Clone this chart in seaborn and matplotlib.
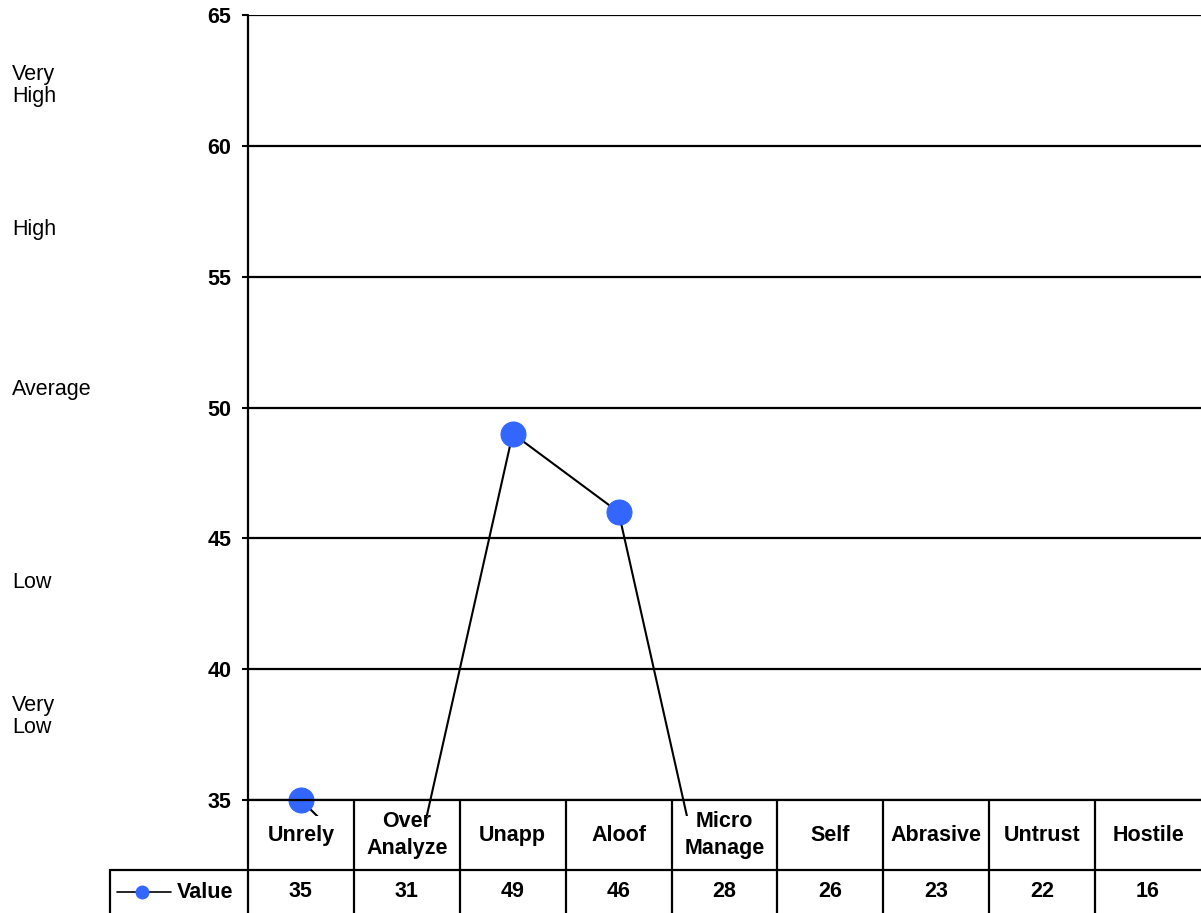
import numpy as np
import pandas as pd
import seaborn as sns
import matplotlib.pyplot as plt
from matplotlib.patches import Rectangle

# данные
categories = ['Unrely', 'Over\nAnalyze', 'Unapp', 'Aloof', 'Micro\nManage',
              'Self', 'Abrasive', 'Untrust', 'Hostile']
values = [35, 31, 49, 46, 28, 26, 23, 22, 16]
y_ticks = [35, 40, 45, 50, 55, 60, 65]
band_labels = ['Very\nHigh', 'High', 'Average', 'Low', 'Very\nLow']
band_y = [62.3, 56.8, 50.7, 43.3, 38.2]
series_name = 'Value'

sns.set_style('white')
plt.rcParams['font.family'] = ['Liberation Sans', 'DejaVu Sans']
plt.rcParams['text.color'] = 'black'
plt.rcParams['ytick.color'] = 'black'
plt.rcParams['ytick.labelcolor'] = 'black'

fig = plt.figure(figsize=(12.01, 9.13), dpi=100)
ax = fig.add_axes([248 / 1201, 113 / 913, 953 / 1201, 785 / 913])

df = pd.DataFrame({'pos': np.arange(len(categories)), 'value': values})
blue = '#3366ff'
sns.lineplot(data=df, x='pos', y='value', ax=ax, color='black', linewidth=1.5,
             marker='o', markersize=18, markerfacecolor=blue,
             markeredgecolor=blue, sort=False)

# линия обрезается чуть ниже оси
clip = Rectangle((0, -0.0205), 1, 1.03, transform=ax.transAxes,
                 facecolor='none', edgecolor='none')
ax.add_patch(clip)
for ln in ax.lines:
    ln.set_clip_path(clip)

ax.set_xlim(-0.5, len(categories) - 0.5)
ax.set_ylim(35, 65)
ax.set_yticks(y_ticks)
ax.set_yticklabels([str(t) for t in y_ticks], fontweight='bold', fontsize=15.5)
ax.tick_params(axis='y', length=4, width=1.5, pad=8, left=True, color='black')
ax.set_xticks([])
ax.set_xlabel('')
ax.set_ylabel('')
ax.grid(axis='y', color='black', linewidth=1.6)
for s in ['top', 'right', 'bottom', 'left']:
    ax.spines[s].set_visible(False)

# таблица под осью
bx = ax.get_xaxis_transform()
row1_bottom = -70 / 785
row2_bottom = -113 / 785
lw = 1.6
ax.plot([-0.5, len(categories) - 0.5], [0, 0], transform=bx, color='black', lw=lw, clip_on=False)
ax.plot([-0.5, -0.5], [row2_bottom, 1], transform=bx, color='black', lw=lw, clip_on=False)
for i in range(1, len(categories)):
    ax.plot([i - 0.5, i - 0.5], [row2_bottom, 0], transform=bx, color='black', lw=lw, clip_on=False)
for i, (c, v) in enumerate(zip(categories, values)):
    ax.text(i, row1_bottom / 2, c, transform=bx, ha='center', va='center',
            fontsize=15.5, fontweight='bold', linespacing=1.35)
    ax.text(i, (row1_bottom + row2_bottom) / 2, str(v), transform=bx, ha='center',
            va='center', fontsize=15.5, fontweight='bold')

# строка легенды
ffx = fig.transFigure
y1 = 1 - 870 / 913
y2 = 1 - 913 / 913
fig.add_artist(plt.Line2D([110 / 1201, 1], [y1, y1], transform=ffx, color='black', lw=lw))
fig.add_artist(plt.Line2D([110 / 1201, 110 / 1201], [y2, y1], transform=ffx, color='black', lw=lw))
ym = 1 - 892 / 913
fig.add_artist(plt.Line2D([117 / 1201, 171 / 1201], [ym, ym], transform=ffx, color='black', lw=1.2))
fig.add_artist(plt.Line2D([142 / 1201], [ym], transform=ffx, marker='o', markersize=9,
                          color=blue, markeredgecolor=blue))
fig.text(177 / 1201, ym, series_name, ha='left', va='center', fontsize=15.5, fontweight='bold')

# подписи уровней
bt = plt.matplotlib.transforms.blended_transform_factory(fig.transFigure, ax.transData)
for lab, yy in zip(band_labels, band_y):
    ax.text(12 / 1201, yy, lab, transform=bt, ha='left', va='center', fontsize=15.5,
            linespacing=1.05, clip_on=False)

fig.savefig('out.png', dpi=100)
